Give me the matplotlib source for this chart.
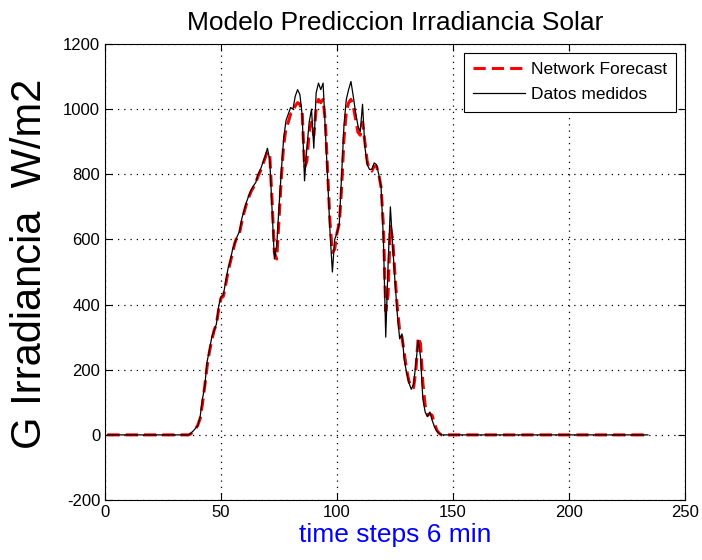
import numpy as np
import matplotlib
matplotlib.use('Agg')
import matplotlib.pyplot as plt

plt.rcParams['font.family'] = ['Liberation Sans', 'DejaVu Sans']
plt.rcParams['axes.unicode_minus'] = False

# pasos de tiempo (6 min)
t_start = 1
t_end = 234
dia_inicio = 36
dia_fin = 145

# irradiancia medida entre t=36 y t=145
medido_dia = [
    0, 5, 12, 20, 28, 56, 110, 150, 225, 260,          # 36-45
    300, 320, 340, 395, 425, 430, 470, 510, 535, 570,  # 46-55
    590, 610, 625, 665, 690, 715, 735, 752, 765, 775,  # 56-65
    800, 815, 835, 855, 880, 845, 690, 540, 580, 700,  # 66-75
    810, 910, 965, 985, 1005, 1000, 1040, 1060, 1045, 980,  # 76-85
    780, 880, 960, 1000, 880, 1050, 1080, 1060, 1080, 930,  # 86-95
    780, 620, 500, 600, 620, 650, 800, 950, 1030, 1060,     # 96-105
    1085, 1040, 990, 950, 930, 1015, 885, 830, 815, 815,    # 106-115
    835, 830, 800, 760, 600, 300, 520, 700, 580, 470,       # 116-125
    370, 295, 310, 230, 190, 160, 140, 155, 220, 290,       # 126-135
    240, 110, 70, 56, 70, 45, 25, 12, 5, 0,                 # 136-145
]

# prediccion de la red entre t=36 y t=145
prediccion_dia = [
    0, 3, 10, 18, 30, 50, 95, 150, 210, 255,
    290, 320, 340, 385, 420, 425, 460, 500, 530, 560,
    590, 610, 620, 655, 685, 710, 730, 748, 760, 775,
    795, 810, 830, 850, 870, 860, 720, 560, 540, 660,
    790, 890, 940, 960, 985, 990, 1010, 1020, 1015, 990,
    820, 840, 930, 960, 920, 1000, 1030, 1020, 1030, 960,
    800, 650, 560, 570, 620, 650, 760, 910, 990, 1020,
    1030, 1010, 970, 930, 920, 960, 900, 840, 815, 810,
    825, 825, 800, 760, 640, 380, 430, 640, 600, 490,
    390, 320, 300, 250, 200, 165, 145, 145, 200, 300,
    280, 160, 90, 60, 65, 60, 35, 15, 5, 0,
]

noche_antes = [0] * (dia_inicio - t_start)
noche_despues = [0] * (t_end - dia_fin)

t = np.arange(t_start, t_end + 1)
medido = np.array(noche_antes + medido_dia + noche_despues)
prediccion = np.array(noche_antes + prediccion_dia + noche_despues)

fig = plt.figure(figsize=(7.02, 5.6), dpi=100)
ax = fig.add_axes([0.1496, 0.1071, 0.8262, 0.8143])

ax.plot(t, prediccion, 'r--', lw=2.2, dashes=(4, 2), label='Network Forecast')
ax.plot(t, medido, 'k-', lw=0.9, label='Datos medidos')

ax.set_xlim(0, 250)
ax.set_ylim(-200, 1200)
ax.set_xticks(np.arange(0, 251, 50))
ax.set_yticks(np.arange(-200, 1201, 200))
ax.grid(True, color='k', linestyle=(0, (1, 4)), linewidth=0.9)
ax.tick_params(direction='in', top=True, right=True, length=5)
for lab in ax.get_xticklabels() + ax.get_yticklabels():
    lab.set_fontfamily(['Liberation Sans Narrow', 'Liberation Sans'])
    lab.set_fontsize(12)
for s in ax.spines.values():
    s.set_linewidth(0.8)

ax.set_title('Modelo Prediccion Irradiancia Solar', fontsize=19, pad=10)
ax.set_xlabel('time steps 6 min', fontsize=19, color='blue', labelpad=2)
fig.text(30 / 702, 1 - 264 / 560, 'G Irradiancia  W/m2', fontsize=30,
         rotation=90, ha='center', va='center')

leg = ax.legend(loc='upper right', fontsize=12.5, fancybox=False, framealpha=1,
                edgecolor='k', handlelength=3.0, borderaxespad=0.5,
                borderpad=0.55, labelspacing=0.55, handletextpad=0.3)
leg.get_frame().set_linewidth(0.8)

fig.savefig('out.png', dpi=100)
